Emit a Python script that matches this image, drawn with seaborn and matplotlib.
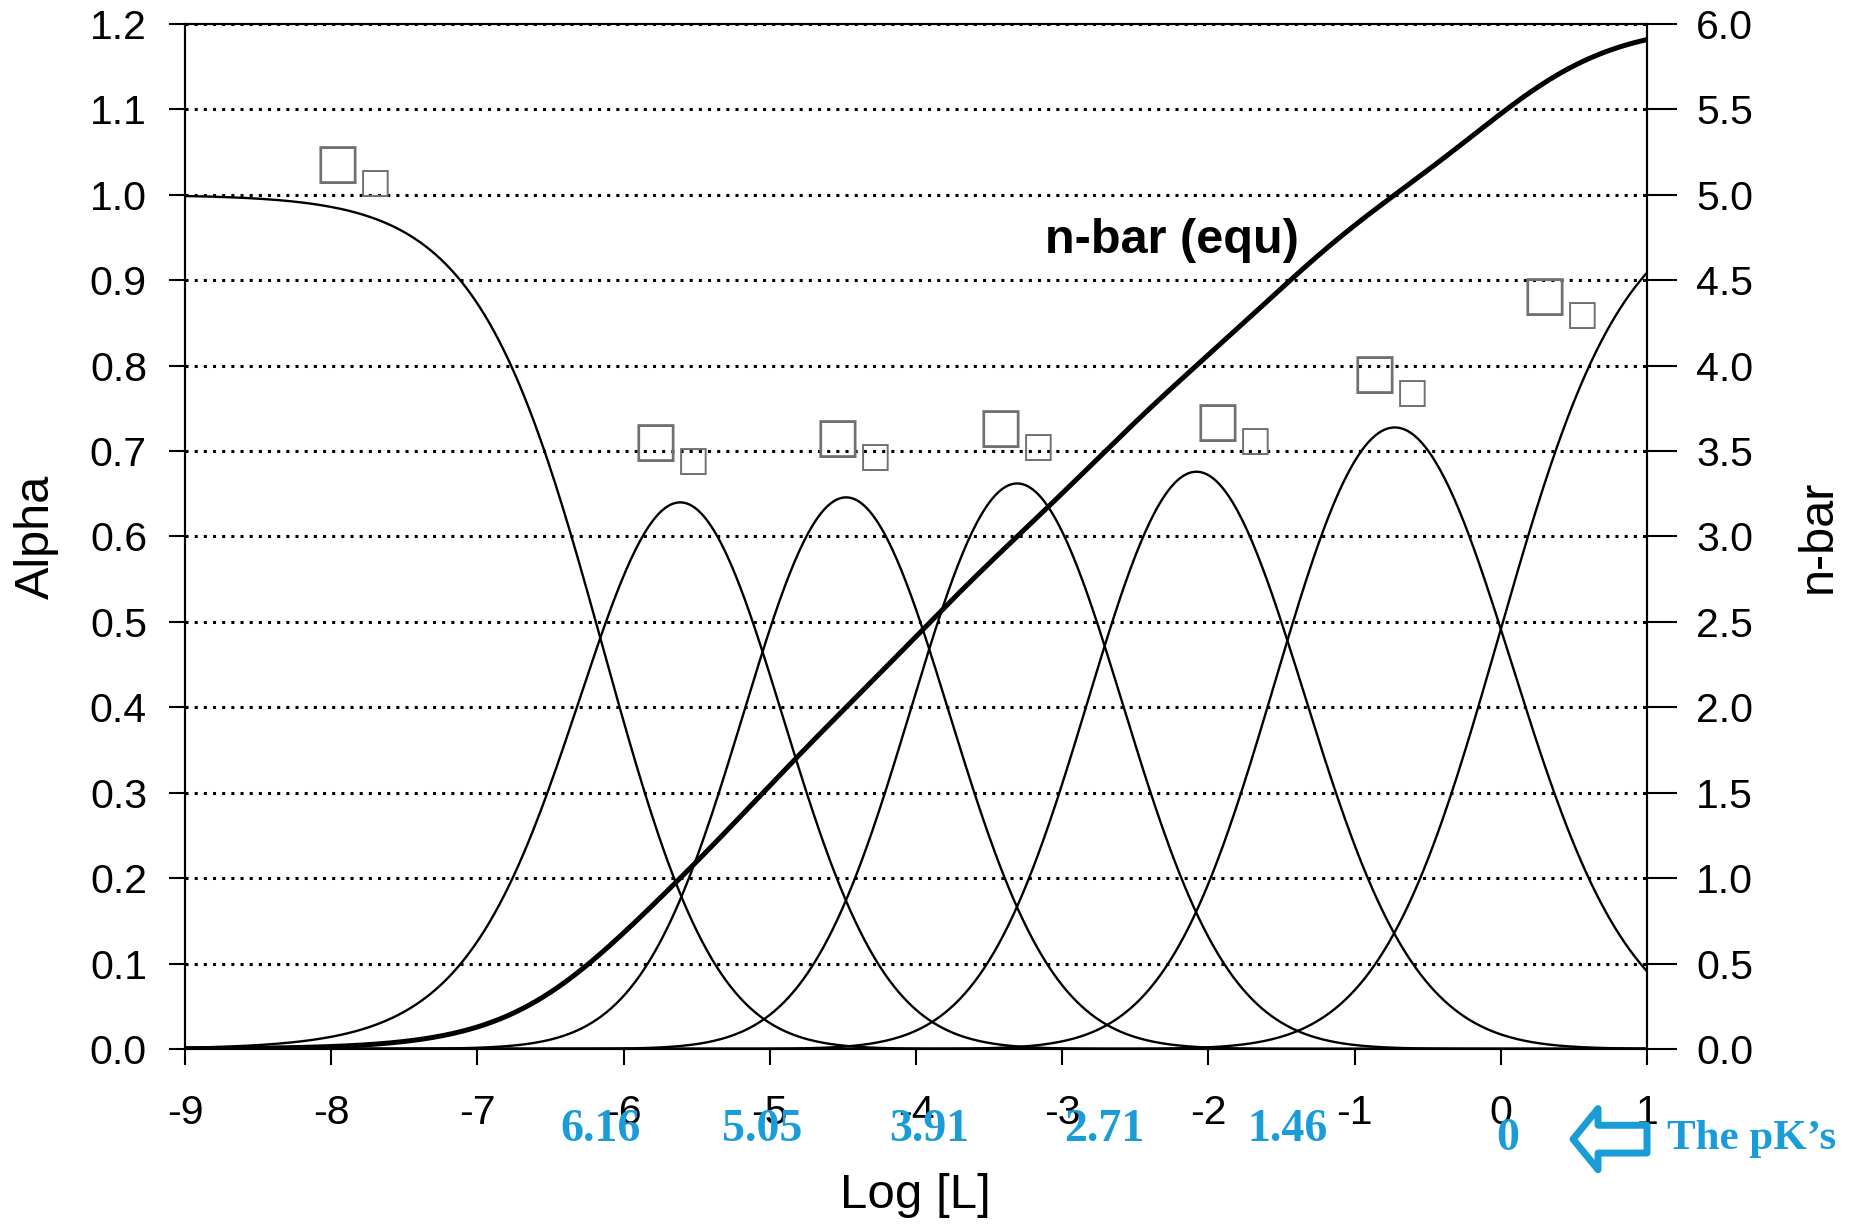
import numpy as np
import pandas as pd
import matplotlib
matplotlib.use("Agg")
import matplotlib.pyplot as plt
import matplotlib.transforms as mtransforms
import seaborn as sns

# stepwise log K values (printed as "The pK's" under the x axis)
pk_values = [6.16, 5.05, 3.91, 2.71, 1.46, 0.0]
pk_labels = ["6.16", "5.05", "3.91", "2.71", "1.46", "0"]
species = ["a0", "a1", "a2", "a3", "a4", "a5", "a6"]

x_ticks = [-9, -8, -7, -6, -5, -4, -3, -2, -1, 0, 1]
x_tick_labels = ["-9", "-8", "-7", "-6", "-5", "-4", "-3", "-2", "-1", "0", "1"]
alpha_ticks = [0.0, 0.1, 0.2, 0.3, 0.4, 0.5, 0.6, 0.7, 0.8, 0.9, 1.0, 1.1, 1.2]
alpha_tick_labels = ["0.0", "0.1", "0.2", "0.3", "0.4", "0.5", "0.6",
                     "0.7", "0.8", "0.9", "1.0", "1.1", "1.2"]
nbar_ticks = [0.0, 0.5, 1.0, 1.5, 2.0, 2.5, 3.0, 3.5, 4.0, 4.5, 5.0, 5.5, 6.0]
nbar_tick_labels = ["0.0", "0.5", "1.0", "1.5", "2.0", "2.5", "3.0",
                    "3.5", "4.0", "4.5", "5.0", "5.5", "6.0"]

BLUE = "#1a9cd8"

# fractions of each species from the cumulative formation constants
log_l = np.linspace(-9, 1, 601)
log_beta = np.concatenate([[0.0], np.cumsum(pk_values)])
n = np.arange(len(log_beta))
terms = 10.0 ** (log_beta[None, :] + n[None, :] * log_l[:, None])
alpha = terms / terms.sum(axis=1, keepdims=True)
nbar = (alpha * n).sum(axis=1)

df = pd.DataFrame(alpha, columns=species)
df["logL"] = log_l
df_long = df.melt(id_vars="logL", var_name="species", value_name="alpha")

sns.set_theme(style="ticks")
plt.rcParams["font.family"] = ["Liberation Sans", "DejaVu Sans"]
plt.rcParams["axes.unicode_minus"] = False
for key in ["text.color", "axes.labelcolor", "xtick.color", "ytick.color", "axes.edgecolor"]:
    plt.rcParams[key] = "black"

fig = plt.figure(figsize=(18.51, 12.28), dpi=100)
ax = fig.add_axes([0.1, 0.1458, 0.7898, 0.8347])

sns.lineplot(data=df_long, x="logL", y="alpha", units="species", estimator=None,
             color="black", linewidth=1.7, ax=ax)

ax.set_xlim(-9, 1)
ax.set_ylim(0, 1.2)
ax.set_xticks(x_ticks)
ax.set_xticklabels(x_tick_labels)
ax.set_yticks(alpha_ticks)
ax.set_yticklabels(alpha_tick_labels)
ax.yaxis.grid(True, linestyle=(0, (1, 2)), linewidth=2.2, color="black")
ax.xaxis.grid(False)
ax.tick_params(axis="y", direction="out", length=11.5, width=1.5, pad=16,
               labelsize=29.5, colors="black")
ax.tick_params(axis="x", direction="out", length=11.5, width=1.5, pad=21,
               labelsize=29.5, colors="black")
for sp in ax.spines.values():
    sp.set_visible(True)
    sp.set_linewidth(1.5)
    sp.set_color("black")

ax.set_xlabel("Log [L]", fontsize=35.5)
ax.xaxis.label.set_va("center")
ax.xaxis.set_label_coords(0.4993, -0.1434)
ax.set_ylabel("Alpha", fontsize=35)
ax.yaxis.label.set_va("center")
ax.yaxis.set_label_coords(-0.1019, 0.5)

ax2 = ax.twinx()
sns.lineplot(x=log_l, y=nbar, color="black", linewidth=3.6, ax=ax2)
ax2.set_ylim(0, 6)
ax2.set_yticks(nbar_ticks)
ax2.set_yticklabels(nbar_tick_labels)
ax2.tick_params(axis="y", direction="out", length=21.5, width=1.5, pad=14,
                labelsize=29.5, colors="black")
ax2.set_ylabel("n-bar", fontsize=35)
ax2.yaxis.label.set_va("center")
ax2.yaxis.set_label_coords(1.117, 0.5)
for sp in ax2.spines.values():
    sp.set_linewidth(1.5)
    sp.set_color("black")

ax.text(-2.25, 0.946, "n-bar (equ)", fontsize=35, fontweight="bold",
        color="black", ha="center", va="center")

# species markers (rendered as empty glyph boxes in the original)
label_xy = [(-7.954, 1.036), (-5.781, 0.710), (-4.537, 0.715), (-3.422, 0.727),
            (-1.936, 0.734), (-0.862, 0.790), (0.301, 0.881)]
for (lx, ly) in label_xy:
    ax.text(lx, ly, "\u25a1", fontsize=35, color="#707070", family="DejaVu Sans",
            ha="center", va="center")
    ax.text(lx + 0.256, ly - 0.022, "\u25a1", fontsize=25, color="#707070",
            family="DejaVu Sans", ha="center", va="center")

# the pK's along the bottom
trans = mtransforms.blended_transform_factory(ax.transData, ax.transAxes)
for pk, lab in zip(pk_values, pk_labels):
    yy = -0.088 if pk == 0 else -0.079
    ax.text(-pk + 0.05 if pk == 0 else -pk, yy, lab, transform=trans,
            fontsize=33, fontweight="bold", color=BLUE,
            family="Liberation Serif", ha="center", va="center", clip_on=False)

ax.annotate("", xy=(0.494, -0.088), xytext=(1.0, -0.088),
            xycoords=trans, textcoords=trans, annotation_clip=False,
            arrowprops=dict(arrowstyle="simple,head_length=0.9,head_width=2.2,tail_width=1.0",
                            mutation_scale=20, fc="white", ec=BLUE, lw=5,
                            shrinkA=0, shrinkB=0))
ax.text(1.14, -0.088, "The pK\u2019s", transform=trans, fontsize=31,
        fontweight="bold", color=BLUE, family="Liberation Serif",
        ha="left", va="center", clip_on=False)

fig.savefig("out.png", dpi=100)
plt.close(fig)
